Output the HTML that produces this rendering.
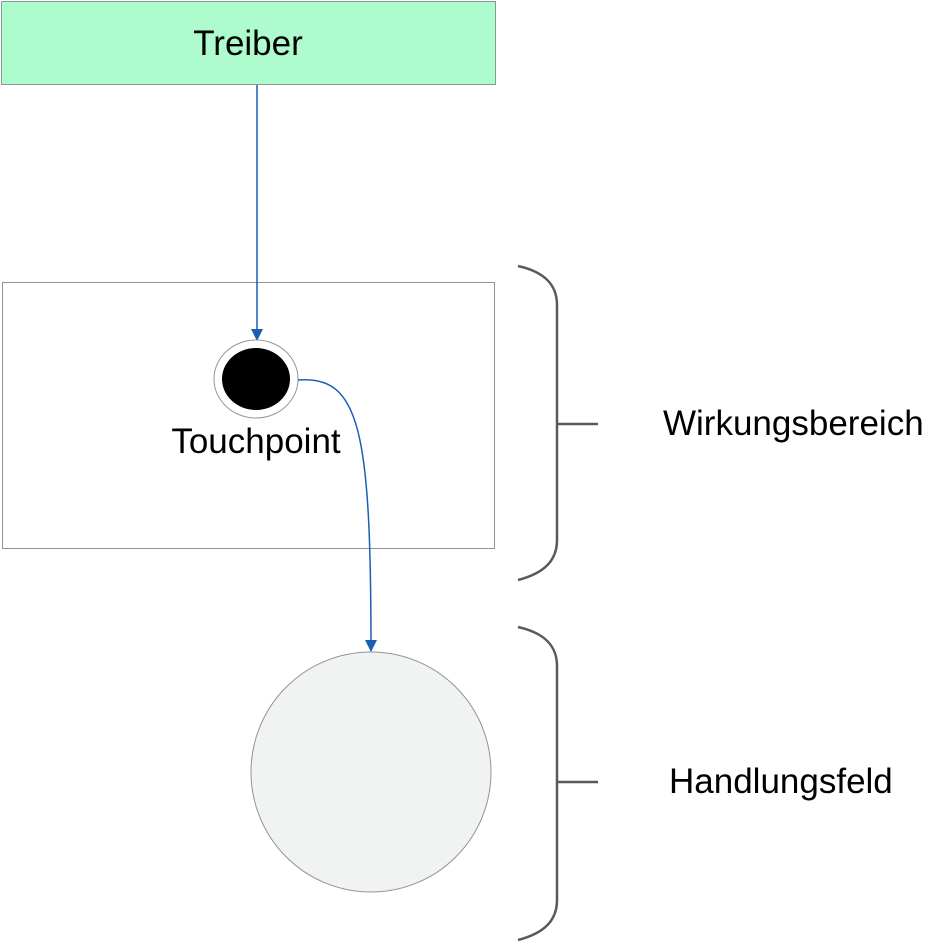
<!DOCTYPE html>
<html><head><style>body{margin:0;background:#fff}svg{display:block}</style></head><body>
<svg width="945" height="944" viewBox="0 0 945 944" xmlns="http://www.w3.org/2000/svg" font-family="Liberation Sans, Arial, sans-serif">
<defs><marker id="a" markerWidth="12" markerHeight="12" refX="6" refY="11" orient="0" markerUnits="userSpaceOnUse"><path d="M0,0 L12,0 L6,12 Z" fill="#1a5fb4"/></marker></defs>
<rect x="1.5" y="1.5" width="494" height="83" fill="#aefcce" stroke="#8a9a92" stroke-width="1"/>
<text x="248" y="55" font-size="35" text-anchor="middle" fill="#000">Treiber</text>
<rect x="2.5" y="282.5" width="492" height="266" fill="#fff" stroke="#8f9496" stroke-width="1"/>
<path d="M257,85 L257,340" stroke="#1a5fb4" stroke-width="1.5" fill="none" marker-end="url(#a)"/>
<ellipse cx="256" cy="379" rx="42" ry="39" fill="#fff" stroke="#8f9a9a" stroke-width="1"/>
<ellipse cx="256" cy="379" rx="34" ry="31" fill="#000"/>
<text x="256" y="453" font-size="35" text-anchor="middle" fill="#000">Touchpoint</text>
<path d="M298,380 C360,375 371,430 371,651" stroke="#1a5fb4" stroke-width="1.5" fill="none" marker-end="url(#a)"/>
<circle cx="371" cy="772" r="120" fill="#f1f2f2" stroke="#8f9496" stroke-width="1"/>
<g stroke="#555c5c" stroke-width="2.5" fill="none">
<path d="M518,266 C545,272 557,285 557,305 L557,540 C557,560 545,573 518,580"/>
<path d="M557,424 L598,424"/>
<path d="M518,627 C545,633 557,646 557,666 L557,900 C557,920 545,933 518,940"/>
<path d="M557,782 L598,782"/>
</g>
<text x="663" y="435" font-size="35" fill="#000">Wirkungsbereich</text>
<text x="669" y="793" font-size="35" fill="#000">Handlungsfeld</text>
</svg>
</body></html>
